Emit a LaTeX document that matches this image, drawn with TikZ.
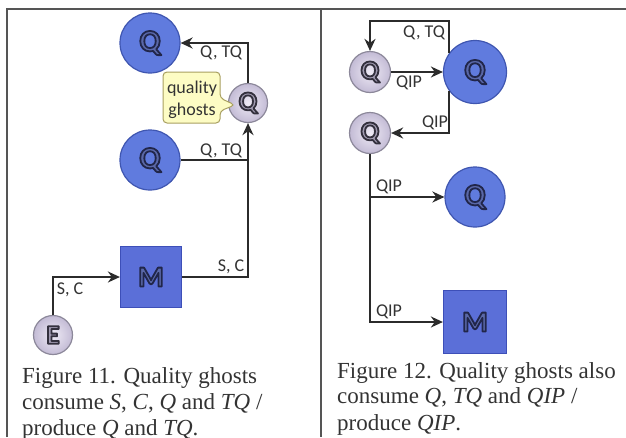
\documentclass[tikz,border=0pt]{standalone}
\usepackage{fontspec}
\setmainfont{Liberation Serif}
\setsansfont{Carlito}
\usetikzlibrary{arrows.meta,calc}

\definecolor{qfill}{HTML}{607BDE}
\definecolor{qedge}{HTML}{3F56B0}
\definecolor{qinner}{HTML}{5A68A8}
\definecolor{gin}{HTML}{EEEAF5}
\definecolor{gout}{HTML}{C3BBD5}
\definecolor{gedge}{HTML}{8C889A}
\definecolor{ginner}{HTML}{A09AB0}
\definecolor{mfill}{HTML}{5B6FD8}
\definecolor{medge}{HTML}{3D4FB8}
\definecolor{linec}{HTML}{2B2B2B}
\definecolor{labc}{HTML}{333333}
\definecolor{capc}{HTML}{333333}
\definecolor{framec}{HTML}{555555}
\definecolor{notefill}{HTML}{FDFCC4}
\definecolor{noteedge}{HTML}{A89F60}

% letter filled with #2 and stroked with a dark rim of colour #1 (r g b)
\newcommand\embossed[3]{\textcolor{#2}{%
  \special{pdf:literal 2 Tr 1.8 w 1 j #1 RG}#3\special{pdf:literal 0 Tr}}}
\def\qink{0.13 0.15 0.29}
\def\gink{0.20 0.19 0.24}

\begin{document}
\begin{tikzpicture}[x=1pt,y=-1pt,
  wire/.style={draw=linec, line width=2.3pt},
  arr/.style={wire, -{Stealth[length=12pt,width=11pt]}},
  bigq/.style={circle, fill=qfill, draw=qedge, line width=1.2pt,
    minimum size=60pt, inner sep=0pt,
    font=\sffamily\bfseries\fontsize{31}{31}\selectfont},
  ghostq/.style={circle, inner color=gin, outer color=gout, draw=gedge,
    line width=1.2pt, minimum size=39pt, inner sep=0pt,
    font=\sffamily\bfseries\fontsize{27}{27}\selectfont},
  mbox/.style={rectangle, fill=mfill, draw=medge, line width=1.2pt,
    minimum size=61pt, inner sep=0pt,
    font=\sffamily\bfseries\fontsize{29}{29}\selectfont},
  lab/.style={font=\sffamily\fontsize{18}{18}\selectfont, text=labc,
    inner sep=0pt, anchor=base},
  capline/.style={font=\fontsize{23}{26}\selectfont, text=capc,
    inner sep=0pt, anchor=base west},
  frameline/.style={draw=framec, line width=1.4pt}]
\useasboundingbox (0,0) rectangle (626,437);

% table rules
\draw[frameline] (7,437) -- (7,9) -- (626,9);
\draw[frameline] (321,9) -- (321,437);

% ---------- Figure 11 ----------
\node[bigq] (tq) at (150,43) {\embossed{\qink}{qinner}{Q}};
\node[ghostq] (gh) at (248,103) {\embossed{\gink}{ginner}{Q}};
\node[bigq] (mq) at (150,160) {\embossed{\qink}{qinner}{Q}};
\node[mbox] (m) at (151,277) {\embossed{\qink}{qinner}{M}};
\node[ghostq] (e) at (53,335) {\embossed{\gink}{ginner}{E}};

\draw[arr] (gh.north) |- (tq.east);
\draw[arr] (m.east) -| (gh.south);
\draw[wire] (mq.east) -- (mq.east -| gh.south);
\draw[arr] (e.north) |- (m.west);

\node[lab] (l1) at (221,57) {Q, TQ};
\node[lab] (l2) at (221,155) {Q, TQ};
\node[lab] (l3) at (231,271) {S, C};
\node[lab] (l4) at (70,294) {S, C};

% callout pointing at the ghost
\draw[fill=notefill, draw=noteedge, line width=1pt, rounded corners=4pt]
  (163,72) -- (220,72) -- (220,98) -- (235,105) -- (220,111)
  -- (220,123) -- (163,123) -- cycle;
\node[lab, text=black!80] (n1) at (192,93) {quality};
\node[lab, text=black!80] (n2) at (192,115) {ghosts};

\node[capline] (c1a) at (22,383) {Figure 11. Quality ghosts};
\node[capline] (c1b) at (22,409) {consume \textit{S}, \textit{C}, \textit{Q} and \textit{TQ} /};
\node[capline] (c1c) at (22,435) {produce \textit{Q} and \textit{TQ}.};

% ---------- Figure 12 ----------
\node[ghostq, minimum size=41pt] (g1) at (370,72) {\embossed{\gink}{ginner}{Q}};
\node[bigq, minimum size=63pt] (bq) at (475,72) {\embossed{\qink}{qinner}{Q}};
\node[ghostq, minimum size=41pt] (g2) at (370,133) {\embossed{\gink}{ginner}{Q}};
\node[bigq] (q3) at (475,197) {\embossed{\qink}{qinner}{Q}};
\node[mbox, minimum size=63pt] (m2) at (475,322) {\embossed{\qink}{qinner}{M}};
\coordinate (lt) at (370,21);

\draw[arr] (bq.144) |- (lt) -- (g1.north);
\draw[arr] (g1.east) -- (bq.west);
\draw[arr] (bq.216) |- (g2.east);
\draw[arr] (g2.south) |- (q3.west);
\draw[arr] (g2.south) |- (m2.west);

\node[lab] (r1) at (424,37) {Q, TQ};
\node[lab] (r2) at (409,87) {QIP};
\node[lab] (r3) at (435,127) {QIP};
\node[lab] (r4) at (389,191) {QIP};
\node[lab] (r5) at (389,316) {QIP};

\node[capline] (c2a) at (337,378) {Figure 12. Quality ghosts also};
\node[capline] (c2b) at (337,403) {consume \textit{Q}, \textit{TQ} and \textit{QIP} /};
\node[capline] (c2c) at (337,430) {produce \textit{QIP}.};
\end{tikzpicture}
\end{document}
